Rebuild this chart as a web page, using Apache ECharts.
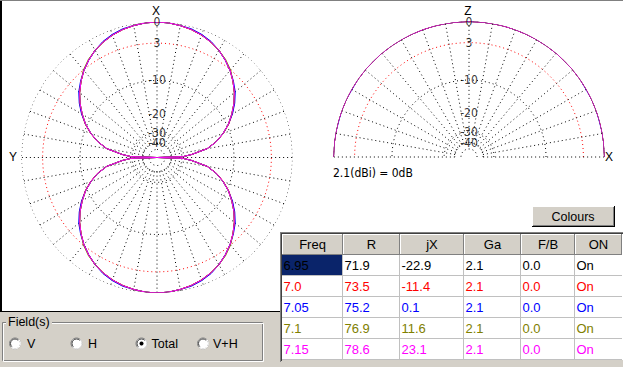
<!DOCTYPE html>
<html><head><meta charset="utf-8">
<script src="https://cdn.jsdelivr.net/npm/echarts@6/dist/echarts.min.js"></script>
<style>html,body{margin:0;padding:0;background:#fff;overflow:hidden}#c{width:623px;height:367px}</style>
</head><body><div id="c"></div>
<script>
// ---- table data ----
const freqs   = ['6.95','7.0','7.05','7.1','7.15'];
const resR    = ['71.9','73.5','75.2','76.9','78.6'];
const resJX   = ['-22.9','-11.4','0.1','11.6','23.1'];
const gainGa  = ['2.1','2.1','2.1','2.1','2.1'];
const fbRatio = ['0.0','0.0','0.0','0.0','0.0'];
const onState = ['On','On','On','On','On'];
const headers = ['Freq','R','jX','Ga','F/B','ON'];
const seriesColors = ['#000000','#ff0000','#0000ff','#808000','#ff00ff'];
// ---- polar grid ----
const ringLevels = [0,-3,-10,-30,-40,-50];
const tickLevels = [0,-3,-10,-20,-30,-40];
const tickLabels = ['0','3','-10','-20','-30','-40'];
const radioLabels = ['V','H','Total','V+H'];
// ---- azimuth pattern (dB, relative) ----
const azAngles = [0,5,10,15,20,25,30,35,40,45,50,55,60,65,70,75,80,85,88,90,92,95,100,105,110,115,120,125,130,135,140,145,150,155,160,165,170,175,180,185,190,195,200,205,210,215,220,225,230,235,240,245,250,255,260,265,268,270,272,275,280,285,290,295,300,305,310,315,320,325,330,335,340,345,350,355,360];
const az695 = [0,-0.05,-0.2,-0.4,-0.7,-1.1,-1.6,-2.3,-3.1,-4.1,-5.2,-6.5,-8.0,-9.6,-11.6,-14.0,-17.3,-24,-29,-99,-29,-24,-17.3,-14.0,-11.6,-9.6,-8.0,-6.5,-5.2,-4.1,-3.1,-2.3,-1.6,-1.1,-0.7,-0.4,-0.2,-0.05,0,-0.05,-0.2,-0.4,-0.7,-1.1,-1.6,-2.3,-3.1,-4.1,-5.2,-6.5,-8.0,-9.6,-11.6,-14.0,-17.3,-24,-29,-99,-29,-24,-17.3,-14.0,-11.6,-9.6,-8.0,-6.5,-5.2,-4.1,-3.1,-2.3,-1.6,-1.1,-0.7,-0.4,-0.2,-0.05,0];
const az700 = [0,-0.05,-0.2,-0.4,-0.7,-1.1,-1.6,-2.3,-3.1,-4.1,-5.2,-6.4,-7.9,-9.5,-11.5,-14.0,-17.3,-24,-29,-99,-29,-24,-17.3,-13.9,-11.5,-9.5,-7.9,-6.4,-5.2,-4.1,-3.1,-2.3,-1.6,-1.1,-0.7,-0.4,-0.2,-0.05,0,-0.05,-0.2,-0.4,-0.7,-1.1,-1.6,-2.3,-3.1,-4.1,-5.2,-6.4,-7.9,-9.5,-11.5,-13.9,-17.3,-24,-29,-99,-29,-24,-17.3,-14.0,-11.5,-9.5,-7.9,-6.4,-5.2,-4.1,-3.1,-2.3,-1.6,-1.1,-0.7,-0.4,-0.2,-0.05,0];
const az705 = [0,-0.05,-0.2,-0.3,-0.6,-1.0,-1.6,-2.3,-3.1,-4.0,-5.0,-6.3,-7.8,-9.6,-11.6,-14.0,-17.3,-24,-29,-99,-29,-24,-17.3,-14.0,-11.6,-9.6,-7.8,-6.3,-5.0,-4.0,-3.1,-2.3,-1.6,-1.0,-0.6,-0.3,-0.2,-0.05,0,-0.05,-0.2,-0.3,-0.6,-1.0,-1.6,-2.3,-3.1,-4.0,-5.0,-6.3,-7.8,-9.6,-11.6,-14.0,-17.3,-24,-29,-99,-29,-24,-17.3,-14.0,-11.6,-9.6,-7.8,-6.3,-5.0,-4.0,-3.1,-2.3,-1.6,-1.0,-0.6,-0.3,-0.2,-0.05,0];
const az710 = [0,-0.05,-0.2,-0.4,-0.7,-1.1,-1.6,-2.2,-3.0,-4.1,-5.2,-6.5,-8.0,-9.6,-11.6,-14.0,-17.3,-24,-29,-99,-29,-24,-17.3,-14.0,-11.6,-9.6,-8.0,-6.5,-5.2,-4.1,-3.0,-2.2,-1.6,-1.1,-0.7,-0.4,-0.2,-0.05,0,-0.05,-0.2,-0.4,-0.7,-1.1,-1.6,-2.2,-3.0,-4.1,-5.2,-6.5,-8.0,-9.6,-11.6,-14.0,-17.3,-24,-29,-99,-29,-24,-17.3,-14.0,-11.6,-9.6,-8.0,-6.5,-5.2,-4.1,-3.0,-2.2,-1.6,-1.1,-0.7,-0.4,-0.2,-0.05,0];
const az715 = [0,-0.05,-0.2,-0.4,-0.7,-1.1,-1.6,-2.3,-3.1,-4.1,-5.2,-6.5,-8.0,-9.6,-11.6,-14.0,-17.3,-24,-29,-99,-29,-24,-17.3,-14.0,-11.6,-9.6,-8.0,-6.5,-5.2,-4.1,-3.1,-2.3,-1.6,-1.1,-0.7,-0.4,-0.2,-0.05,0,-0.05,-0.2,-0.4,-0.7,-1.1,-1.6,-2.3,-3.1,-4.1,-5.2,-6.5,-8.0,-9.6,-11.6,-14.0,-17.3,-24,-29,-99,-29,-24,-17.3,-14.0,-11.6,-9.6,-8.0,-6.5,-5.2,-4.1,-3.1,-2.3,-1.6,-1.1,-0.7,-0.4,-0.2,-0.05,0];
// ---- elevation pattern (dB, relative) ----
const elAngles = [0,5,10,15,20,25,30,35,40,45,50,55,60,65,70,75,80,85,90,95,100,105,110,115,120,125,130,135,140,145,150,155,160,165,170,175,180];
const el695 = [0,0,0,0,0,0,0,0,0,0,0,0,0,0,0,0,0,0,0,0,0,0,0,0,0,0,0,0,0,0,0,0,0,0,0,0,0];
const el700 = [0,0,0,0,0,0,0,0,0,0,0,0,0,0,0,0,0,0,0,0,0,0,0,0,0,0,0,0,0,0,0,0,0,0,0,0,0];
const el705 = [0,0,0,-0.05,0,0,-0.05,0,0,0,0,0,0,0,0,0,0,0,0,0,0,0,0,0,0,0,0,0,0,0,-0.05,0,0,-0.05,0,0,0];
const el710 = [0,0,0,0,0,0,0,0,0,0,0,0,0,0,0,0,0,0,0,0,0,0,0,0,0,0,0,0,0,0,0,0,0,0,0,0,0];
const el715 = [0,0,0,0,0,0,0,0,0,0,0,0,0,0,0,0,0,0,0,0,0,0,0,0,0,0,0,0,0,0,0,0,0,0,0,0,0];

const azSets = [az695, az700, az705, az710, az715];
const elSets = [el695, el700, el705, el710, el715];

// ARRL-style log radial scale used by the program
const K = 0.0565;
const toR = db => Math.exp(K * db);

const chart = echarts.init(document.getElementById('c'), null, {renderer: 'svg', width: 623, height: 367});
const LC = [157, 157.5], RC = [469, 157], RAD = 135.5;
const DOT = [1, 3];
const PLOTFONT = '"Liberation Sans Narrow", "Arial Narrow", "DejaVu Sans Condensed", Arial, sans-serif';
const UIFONT = 'Arial, "Liberation Sans", sans-serif';

const series = [];
function ring(pi, db, a0, a1, color) {
  const pts = [];
  for (let a = a0; a <= a1; a += 2) pts.push([toR(db), a]);
  series.push({type: 'line', coordinateSystem: 'polar', polarIndex: pi, data: pts, symbol: 'none', silent: true,
    lineStyle: {color: color, width: 1, type: DOT}, z: 1, animation: false});
}
function spoke(pi, a) {
  series.push({type: 'line', coordinateSystem: 'polar', polarIndex: pi, data: [[toR(-40), a], [1, a]], symbol: 'none', silent: true,
    lineStyle: {color: '#000', width: 1, type: DOT}, z: 1, animation: false});
}
ringLevels.forEach(d => { ring(0, d, 0, 360, d === -3 ? '#ff0000' : '#000'); ring(1, d, 0, 180, d === -3 ? '#ff0000' : '#000'); });
for (let a = 0; a < 360; a += 10) spoke(0, a);
for (let a = 0; a <= 180; a += 10) spoke(1, a);

azSets.forEach((vals, i) => {
  series.push({type: 'line', coordinateSystem: 'polar', polarIndex: 0, name: freqs[i],
    data: azAngles.map((a, j) => [toR(vals[j]), a]), symbol: 'none', silent: true,
    lineStyle: {color: seriesColors[i], width: 1}, z: 3 + i, animation: false});
});
elSets.forEach((vals, i) => {
  series.push({type: 'line', coordinateSystem: 'polar', polarIndex: 1, name: freqs[i],
    data: elAngles.map((a, j) => [toR(vals[j]), a]), symbol: 'none', silent: true,
    lineStyle: {color: seriesColors[i], width: 1}, z: 3 + i, animation: false});
});
[[0, 0], [1, 90]].forEach(([pi, ang]) => {
  series.push({type: 'scatter', coordinateSystem: 'polar', polarIndex: pi, symbolSize: 0, silent: true, z: 10,
    itemStyle: {color: 'rgba(0,0,0,0)'},
    label: {show: true, position: 'inside', formatter: '{b}', color: '#000', fontSize: 12, fontFamily: PLOTFONT},
    data: tickLevels.map((d, i) => ({name: tickLabels[i], value: [toR(d), ang]})), animation: false});
});

// ---- UI graphic (table, button, group box) ----
const g = [];
const rect = (x, y, w, h, fill, z) => g.push({type: 'rect', shape: {x, y, width: w, height: h}, style: {fill}, z: z || 1, silent: true});
const text = (x, y, s, color, opt) => g.push(Object.assign({type: 'text', x, y, silent: true, z: 5,
  style: Object.assign({text: s, fill: color || '#000', font: '13px ' + UIFONT, textVerticalAlign: 'middle', textAlign: 'left'}, (opt || {}))}));

// window frame
rect(0, 0, 623, 1, '#808080');
rect(0, 1, 2, 311, '#000');
rect(0, 311, 281, 1, '#000');
rect(0, 312, 281, 55, '#d4d0c8');
rect(281, 360, 342, 7, '#d4d0c8');

// axis letters
text(156, 11, 'X', '#000', {font: '12px ' + UIFONT, textAlign: 'center'});
text(13, 157, 'Y', '#000', {font: '12px ' + UIFONT, textAlign: 'center'});
text(468, 11, 'Z', '#000', {font: '12px ' + UIFONT, textAlign: 'center'});
text(609, 157, 'X', '#000', {font: '12px ' + UIFONT, textAlign: 'center'});
text(333, 173, '2.1(dBi) = 0dB', '#000', {font: '12px ' + PLOTFONT});

// table
const colX = [282, 343, 400, 464, 521, 575, 622];
const rowY = [234, 255, 276, 297, 318, 339, 360];
rect(280, 232, 343, 1, '#808080'); rect(280, 232, 1, 130, '#808080');
rect(281, 233, 342, 1, '#404040'); rect(281, 233, 1, 128, '#404040');
rect(282, 234, 341, 126, '#ffffff');
headers.forEach((h, i) => {
  const x0 = colX[i], x1 = colX[i + 1];
  rect(x0, rowY[0], x1 - x0, rowY[1] - rowY[0], '#808080', 2);
  rect(x0, rowY[0], x1 - x0 - 1, rowY[1] - rowY[0] - 1, '#ffffff', 2);
  rect(x0 + 1, rowY[0] + 1, x1 - x0 - 2, rowY[1] - rowY[0] - 2, '#d4d0c8', 2);
  text((x0 + x1) / 2, (rowY[0] + rowY[1]) / 2, h, '#000', {textAlign: 'center'});
});
rect(colX[0], rowY[1], colX[1] - colX[0] - 1, rowY[2] - rowY[1] - 1, '#0a246a', 2);
for (let i = 1; i < colX.length - 1; i++) rect(colX[i] - 1, rowY[1], 1, rowY[6] - rowY[1], '#c0c0c0', 2);
for (let j = 2; j < rowY.length; j++) rect(colX[0], rowY[j] - 1, colX[6] - colX[0], 1, '#c0c0c0', 2);
const cols = [freqs, resR, resJX, gainGa, fbRatio, onState];
for (let r = 0; r < 5; r++) {
  cols.forEach((col, c) => {
    text(colX[c] + 1.5, (rowY[r + 1] + rowY[r + 2]) / 2, col[r], seriesColors[r]);
  });
}

// Colours button
rect(532, 206, 83, 21, '#000', 3);
rect(532, 206, 82, 20, '#ffffff', 3);
rect(533, 207, 81, 19, '#808080', 3);
rect(533, 207, 80, 18, '#d4d0c8', 3);
text(573, 216.5, 'Colours', '#000', {textAlign: 'center', font: '12.5px ' + UIFONT});

// Field(s) group box
g.push({type: 'rect', shape: {x: 2.5, y: 322.5, width: 260, height: 38}, style: {fill: 'none', stroke: '#808080', lineWidth: 1}, z: 2, silent: true});
g.push({type: 'rect', shape: {x: 3.5, y: 323.5, width: 260, height: 38}, style: {fill: 'none', stroke: '#ffffff', lineWidth: 1}, z: 2, silent: true});
rect(6, 316, 46, 12, '#d4d0c8', 3);
text(8, 322, 'Field(s)', '#000', {font: '12.5px ' + UIFONT});
const radioX = [15, 76.5, 141.5, 203];
const labelX = [27, 88, 151.5, 213];
radioLabels.forEach((lab, i) => {
  g.push({type: 'circle', shape: {cx: radioX[i], cy: 343.5, r: 5.5}, style: {fill: '#fff', stroke: '#808080', lineWidth: 1}, z: 3, silent: true});
  g.push({type: 'arc', shape: {cx: radioX[i], cy: 343.5, r: 5.5, startAngle: -Math.PI * 0.25, endAngle: Math.PI * 0.75, clockwise: true}, style: {stroke: '#ffffff', lineWidth: 1, fill: 'none'}, z: 4, silent: true});
  g.push({type: 'arc', shape: {cx: radioX[i], cy: 343.5, r: 4.5, startAngle: Math.PI * 0.75, endAngle: Math.PI * 1.75, clockwise: true}, style: {stroke: '#404040', lineWidth: 1, fill: 'none'}, z: 4, silent: true});
  if (lab === 'Total') g.push({type: 'circle', shape: {cx: radioX[i], cy: 343.5, r: 2}, style: {fill: '#000'}, z: 5, silent: true});
  text(labelX[i], 344, lab, '#000', {font: '12.5px ' + UIFONT});
});

chart.setOption({
  animation: false,
  backgroundColor: '#ffffff',
  polar: [{center: LC, radius: RAD}, {center: RC, radius: RAD}],
  angleAxis: [
    {polarIndex: 0, type: 'value', min: 0, max: 360, startAngle: 90, clockwise: true,
      axisLine: {show: false}, axisTick: {show: false}, axisLabel: {show: false}, splitLine: {show: false}},
    {polarIndex: 1, type: 'value', min: 0, max: 360, startAngle: 0, clockwise: false,
      axisLine: {show: false}, axisTick: {show: false}, axisLabel: {show: false}, splitLine: {show: false}}
  ],
  radiusAxis: [
    {polarIndex: 0, type: 'value', min: 0, max: 1, axisLine: {show: false}, axisTick: {show: false}, axisLabel: {show: false}, splitLine: {show: false}},
    {polarIndex: 1, type: 'value', min: 0, max: 1, axisLine: {show: false}, axisTick: {show: false}, axisLabel: {show: false}, splitLine: {show: false}}
  ],
  series: series,
  graphic: {elements: g}
});
</script>
</body></html>
